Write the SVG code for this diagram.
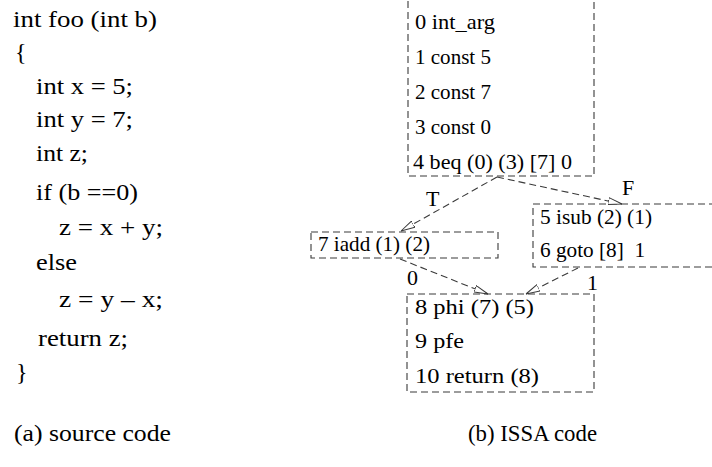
<svg xmlns="http://www.w3.org/2000/svg" width="712" height="467" viewBox="0 0 712 467" font-family="Liberation Serif, Times New Roman, serif">
  <style>
    text { fill: #000; white-space: pre; }
    .code { font-size: 24px; }
    .ins { font-size: 22px; }
    .cap { font-size: 23px; }
    .box { fill: none; stroke: #3a3a3a; stroke-width: 1.1; stroke-dasharray: 7 4; }
    .edge { fill: none; stroke: #3a3a3a; stroke-width: 1.1; stroke-dasharray: 7 4; marker-end: url(#open); }
  </style>
  <defs>
    <marker id="open" viewBox="0 0 14 8" refX="14" refY="4" markerWidth="14" markerHeight="8" markerUnits="userSpaceOnUse" orient="auto">
      <path d="M0,0.5 L14,4 L0,7.5 Z" fill="#fff" stroke="#3a3a3a" stroke-width="1"/>
    </marker>
  </defs>

  <rect width="712" height="467" fill="#fff"/>

  <!-- source code -->
  <g id="source">
    <text class="code" x="13" y="27" textLength="144" lengthAdjust="spacingAndGlyphs">int foo (int b)</text>
    <text class="code" x="15" y="60">{</text>
    <text class="code" x="36" y="94" textLength="97" lengthAdjust="spacingAndGlyphs">int x = 5;</text>
    <text class="code" x="36" y="127" textLength="97" lengthAdjust="spacingAndGlyphs">int y = 7;</text>
    <text class="code" x="36" y="161" textLength="52" lengthAdjust="spacingAndGlyphs">int z;</text>
    <text class="code" x="36" y="200" textLength="102" lengthAdjust="spacingAndGlyphs">if (b ==0)</text>
    <text class="code" x="59" y="235" textLength="104" lengthAdjust="spacingAndGlyphs">z = x + y;</text>
    <text class="code" x="36" y="270" textLength="41" lengthAdjust="spacingAndGlyphs">else</text>
    <text class="code" x="59" y="307" textLength="104" lengthAdjust="spacingAndGlyphs">z = y – x;</text>
    <text class="code" x="38" y="346" textLength="90" lengthAdjust="spacingAndGlyphs">return z;</text>
    <text class="code" x="16" y="380">}</text>
  </g>

  <!-- ISSA blocks -->
  <g id="block0">
    <rect class="box" x="408" y="-10" width="186" height="186"/>
    <text class="ins" x="415" y="29" textLength="80" lengthAdjust="spacingAndGlyphs">0 int_arg</text>
    <text class="ins" x="415" y="64" textLength="76" lengthAdjust="spacingAndGlyphs">1 const 5</text>
    <text class="ins" x="415" y="99" textLength="76" lengthAdjust="spacingAndGlyphs">2 const 7</text>
    <text class="ins" x="415" y="134" textLength="76" lengthAdjust="spacingAndGlyphs">3 const 0</text>
    <text class="ins" x="413" y="169" textLength="159" lengthAdjust="spacingAndGlyphs">4 beq (0) (3) [7] 0</text>
  </g>
  <g id="block7">
    <rect class="box" x="311" y="232" width="187" height="26"/>
    <text class="ins" x="318" y="251" textLength="112" lengthAdjust="spacingAndGlyphs">7 iadd (1) (2)</text>
  </g>
  <g id="block5">
    <rect class="box" x="533" y="204" width="190" height="63"/>
    <text class="ins" x="540" y="224" textLength="112" lengthAdjust="spacingAndGlyphs">5 isub (2) (1)</text>
    <text class="ins" x="540" y="257" textLength="105" lengthAdjust="spacingAndGlyphs">6 goto [8]  1</text>
  </g>
  <g id="block8">
    <rect class="box" x="407" y="294" width="187" height="98"/>
    <text class="ins" x="415" y="314" textLength="119" lengthAdjust="spacingAndGlyphs">8 phi (7) (5)</text>
    <text class="ins" x="415" y="348" textLength="49" lengthAdjust="spacingAndGlyphs">9 pfe</text>
    <text class="ins" x="415" y="383" textLength="124" lengthAdjust="spacingAndGlyphs">10 return (8)</text>
  </g>

  <!-- control-flow edges with branch labels -->
  <g id="edges">
    <path class="edge" d="M497,177 L401,231"/>
    <path class="edge" d="M497,177 L622,204"/>
    <path class="edge" d="M400,259 L488,294"/>
    <path class="edge" d="M578,268 L526,294"/>
    <text class="ins" x="426" y="206">T</text>
    <text class="ins" x="622" y="195">F</text>
    <text class="ins" x="407" y="285">0</text>
    <text class="ins" x="587" y="290">1</text>
  </g>

  <!-- captions -->
  <text class="cap" x="14" y="441" textLength="157" lengthAdjust="spacingAndGlyphs">(a) source code</text>
  <text class="cap" x="468" y="441" textLength="129" lengthAdjust="spacingAndGlyphs">(b) ISSA code</text>
</svg>
